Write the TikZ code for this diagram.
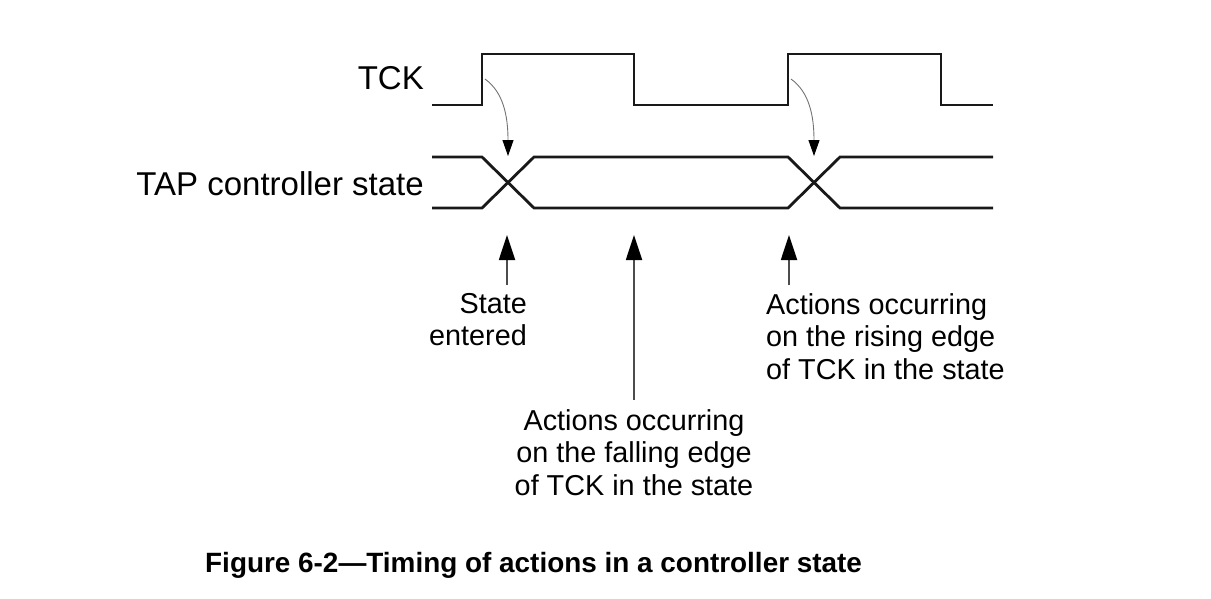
\documentclass[tikz,border=0pt]{standalone}
\usepackage{fontspec}
\setmainfont{Liberation Sans}
\usetikzlibrary{arrows.meta}
\begin{document}
\begin{tikzpicture}[x=1pt,y=-1pt,
  wave/.style={line width=2.8pt, line join=miter, black!90},
  bigarrow/.style={line width=1.8pt, black!70, -{Triangle[length=25pt,width=16pt,color=black]}},
  curvearrow/.style={line width=0.9pt, black!55, -{Triangle[length=16pt,width=11pt,color=black]}},
  lbl/.style={font=\fontsize{33}{36}\selectfont, inner sep=0pt},
  note/.style={font=\fontsize{28.8}{32.5}\selectfont, inner sep=0pt},
  captext/.style={font=\fontsize{27.9}{32}\selectfont\bfseries, inner sep=0pt}]
\useasboundingbox (0,0) rectangle (1211,598);
% TCK waveform
\draw[wave] (432,105) -- (482,105) -- (482,54) -- (634,54) -- (634,105) -- (788,105) -- (788,54) -- (941,54) -- (941,105) -- (993,105);
% bus
\draw[wave] (432,157) -- (482,157) -- (534,208) -- (788,208) -- (840,157) -- (993,157);
\draw[wave] (432,208) -- (482,208) -- (534,157) -- (788,157) -- (840,208) -- (993,208);
% curved arrows
\coordinate (r1) at (485,79);
\coordinate (x1) at (508,156);
\coordinate (r2) at (791,79);
\coordinate (x2) at (814,156);
\draw[curvearrow] (r1) .. controls (503,92) and (508,115) .. (x1);
\draw[curvearrow] (r2) .. controls (809,92) and (814,115) .. (x2);
% labels
\node[lbl, anchor=east] (tck) at (424,78) {TCK};
\node[lbl, anchor=east] (tap) at (424,184) {TAP controller state};
% annotations
\node[note, anchor=north east, align=right] (se) at (527,293) {State\\entered};
\node[note, anchor=north, align=center] (fall) at (634,409) {Actions occurring\\on the falling edge\\of TCK in the state};
\node[note, anchor=north west, align=left] (rise) at (766,293) {Actions occurring\\on the rising edge\\of TCK in the state};
\coordinate (t1) at (507,235);
\coordinate (t2) at (634,235);
\coordinate (t3) at (789,235);
\coordinate (b1) at (507,285);
\coordinate (b2) at (634,400);
\coordinate (b3) at (789,285);
\draw[bigarrow] (b1) -- (t1);
\draw[bigarrow] (b2) -- (t2);
\draw[bigarrow] (b3) -- (t3);
\node[captext, anchor=west] (caption) at (205,565) {Figure 6-2—Timing of actions in a controller state};
\end{tikzpicture}
\end{document}
